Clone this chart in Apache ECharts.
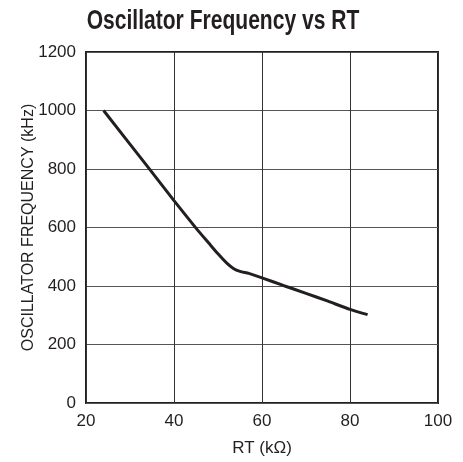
<!DOCTYPE html>
<html><head><meta charset="utf-8">
<script src="https://cdn.jsdelivr.net/npm/echarts@6/dist/echarts.min.js"></script>
<style>html,body{margin:0;padding:0;background:#fff}#c{width:463px;height:462px}</style>
</head><body><div id="c"></div>
<script>
var rt = [24, 34, 40, 45, 48, 50, 52, 53.5, 55, 57, 60, 65, 70, 75, 80, 84];
var freq = [1000, 808, 692, 598, 545, 510, 478, 460, 450, 443, 428, 401, 375, 348, 320, 302];
var xTicks = [20, 40, 60, 80, 100];
var yTicks = [0, 200, 400, 600, 800, 1000, 1200];
var titleText = 'Oscillator Frequency vs RT';
var FONT = '"Liberation Sans", Arial, sans-serif';
var chart = echarts.init(document.getElementById('c'), null, {renderer: 'canvas'});
chart.setOption({
  animation: false,
  graphic: [{type: 'text', x: 223, y: 21, scaleX: 0.78, scaleY: 1.02,
    style: {text: titleText, fontFamily: FONT, fontWeight: 'bold', fontSize: 27,
      fill: '#231f20', align: 'center', verticalAlign: 'middle'}}],
  grid: {left: 86, right: 25, top: 52, bottom: 59, outerBoundsMode: 'none', containLabel: false,
    show: true, borderColor: '#231f20', borderWidth: 2},
  xAxis: {type: 'value', min: xTicks[0], max: xTicks[xTicks.length-1], interval: 20,
    name: 'RT (k\u03a9)', nameLocation: 'middle', nameGap: 37, nameMoveOverlap: false,
    nameTextStyle: {fontFamily: FONT, fontSize: 17, color: '#231f20'},
    axisLine: {show: false}, axisTick: {show: false},
    axisLabel: {fontFamily: FONT, fontSize: 17, color: '#231f20', margin: 10,
      formatter: function(v){ return String(v); }},
    splitLine: {show: true, lineStyle: {color: '#333', width: 1}}},
  yAxis: {type: 'value', min: yTicks[0], max: yTicks[yTicks.length-1], interval: 200,
    name: 'OSCILLATOR FREQUENCY (kHz)', nameLocation: 'middle', nameGap: 49, nameMoveOverlap: false,
    nameTextStyle: {fontFamily: FONT, fontSize: 16, color: '#231f20'},
    axisLine: {show: false}, axisTick: {show: false},
    axisLabel: {fontFamily: FONT, fontSize: 17, color: '#231f20', margin: 10,
      formatter: function(v){ return String(v); }},
    splitLine: {show: true, lineStyle: {color: '#555', width: 1}}},
  series: [{type: 'line', data: rt.map(function(v, i){ return [v, freq[i]]; }),
    showSymbol: false, smooth: 0.2, lineStyle: {color: '#231f20', width: 3}}]
});
</script></body></html>
